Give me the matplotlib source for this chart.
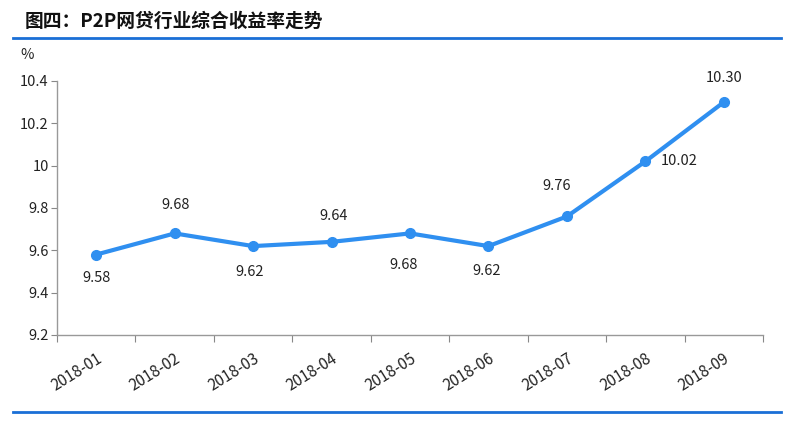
import matplotlib
matplotlib.use("Agg")
import matplotlib.pyplot as plt
from matplotlib.lines import Line2D

plt.rcParams['font.family'] = ['Noto Sans CJK SC', 'DejaVu Sans']

categories = ["2018-01", "2018-02", "2018-03", "2018-04", "2018-05",
              "2018-06", "2018-07", "2018-08", "2018-09"]
values = [9.58, 9.68, 9.62, 9.64, 9.68, 9.62, 9.76, 10.02, 10.30]
value_labels = ["9.58", "9.68", "9.62", "9.64", "9.68", "9.62", "9.76", "10.02", "10.30"]
label_offsets = [(0, -23), (1, 28), (-3, -26), (2, 26), (-6, -32),
                 (-2, -25), (-10, 30), (34, 0), (0, 24)]
yticks = [9.2, 9.4, 9.6, 9.8, 10, 10.2, 10.4]
ytick_labels = ["9.2", "9.4", "9.6", "9.8", "10", "10.2", "10.4"]

color = "#2f8ff0"

fig = plt.figure(figsize=(8, 4.28), dpi=100)
ax = fig.add_axes([57/800, 1-335/428, (763-57)/800, (335-81)/428])

x = list(range(len(categories)))
ax.plot(x, values, color=color, lw=3, marker='o', ms=7, solid_capstyle='round')

for xi, v, lab, (dx, dy) in zip(x, values, value_labels, label_offsets):
    ax.annotate(lab, (xi, v), xytext=(dx, dy), textcoords='offset pixels',
                ha='center', va='center', fontsize=10.5, color='#222222')

ax.set_xlim(-0.5, len(categories) - 0.5)
ax.set_ylim(9.2, 10.4)
ax.set_yticks(yticks)
ax.set_yticklabels(ytick_labels, fontsize=10.5, color='#222222')

# category labels at centers, tick marks at boundaries
ax.set_xticks([i - 0.5 for i in range(len(categories) + 1)])
ax.set_xticklabels([])
ax.set_xticks(x, minor=True)
ax.set_xticklabels(categories, minor=True, rotation=32, ha='right',
                   rotation_mode='anchor', fontsize=11, color='#222222')
ax.tick_params(axis='x', which='minor', length=0, pad=11)
ax.tick_params(axis='x', which='major', length=5, color='#888888')
ax.tick_params(axis='y', length=4, color='#888888', pad=2)

for s in ['top', 'right']:
    ax.spines[s].set_visible(False)
for s in ['left', 'bottom']:
    ax.spines[s].set_color('#999999')
    ax.spines[s].set_linewidth(1)

fig.text(25/800, 1-21/428, "图四：P2P网贷行业综合收益率走势", fontsize=13.5,
         fontweight='bold', va='center', ha='left', color='#111111')
fig.text(20/800, 1-55/428, "%", fontsize=10.5, va='center', ha='left', color='#222222')

fig.add_artist(Line2D([13/800, 781/800], [1-38/428, 1-38/428], color='#1a6fd6', lw=2))
fig.add_artist(Line2D([13/800, 781/800], [1-412/428, 1-412/428], color='#1a6fd6', lw=2))

fig.savefig("out.png", dpi=100)
